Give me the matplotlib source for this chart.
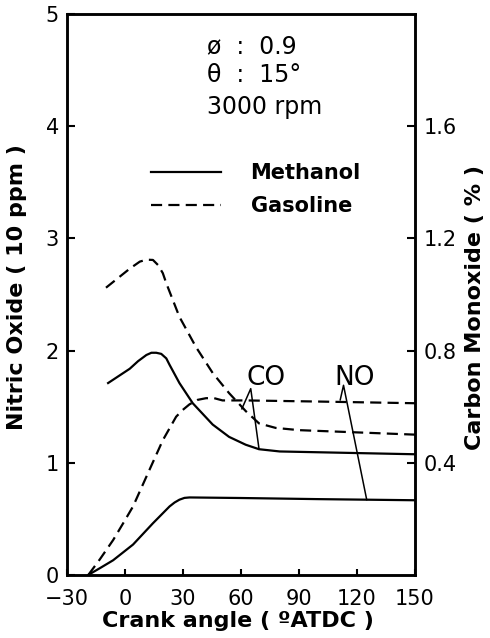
import matplotlib
matplotlib.use('Agg')
import matplotlib.pyplot as plt

plt.rcParams['font.family'] = ['DejaVu Sans']
plt.rcParams['lines.scale_dashes'] = False

# crank angle (deg ATDC) and nitric oxide (x10 ppm)
no_meth_x = [-19, -13, -6.2, 4.1, 14.4, 23, 25.6, 28.1, 30.7, 33.3, 60, 100, 150]
no_meth_y = [0, 0.06, 0.13, 0.27, 0.46, 0.61, 0.645, 0.67, 0.686, 0.69, 0.685, 0.675, 0.665]

no_gas_x = [-19, -13, -6.2, -1, 4.1, 12.7, 19.5, 26.4, 29.8, 33.3, 37.5, 41.9, 46.1, 50.4, 62.4, 100, 150]
no_gas_y = [0, 0.14, 0.31, 0.46, 0.61, 0.94, 1.20, 1.41, 1.47, 1.52, 1.56, 1.575, 1.575, 1.555, 1.555, 1.545, 1.53]

# carbon monoxide (%)
co_meth_x = [-8.8, 2.4, 6.7, 11, 13.6, 16.1, 18.7, 21.3, 23, 28.1, 35, 45.3, 53.8, 62.4, 69.3, 80, 150]
co_meth_y = [0.684, 0.735, 0.762, 0.784, 0.792, 0.792, 0.788, 0.772, 0.749, 0.684, 0.612, 0.536, 0.492, 0.464, 0.448, 0.44, 0.43]

co_gas_x = [-9.9, 2.4, 7.6, 11, 14.4, 17.0, 19.5, 21.3, 28.1, 36.7, 45.3, 53.8, 62.4, 69.3, 77.9, 90, 150]
co_gas_y = [1.024, 1.092, 1.117, 1.124, 1.123, 1.105, 1.076, 1.04, 0.92, 0.812, 0.72, 0.648, 0.584, 0.54, 0.524, 0.516, 0.50]

# leader lines of the CO / NO labels (left axis units)
co_lead_x = [60.4, 65, 69.3]
co_lead_y = [1.48, 1.66, 1.12]
no_lead_x = [111.3, 113, 125]
no_lead_y = [1.56, 1.69, 0.67]

x_ticks = [-30, 0, 30, 60, 90, 120, 150]
left_ticks = [0, 1, 2, 3, 4, 5]
right_ticks = [0.4, 0.8, 1.2, 1.6]

dash = (0, (8, 4.5))
lw = 1.6

fig = plt.figure(figsize=(4.9, 6.38), dpi=100)
ax = fig.add_axes([0.137, 0.099, 0.710, 0.879])
ax2 = ax.twinx()

ax.plot(no_meth_x, no_meth_y, color='black', lw=lw, label='Methanol')
ax.plot(no_gas_x, no_gas_y, color='black', lw=lw, linestyle=dash, label='Gasoline')
ax2.plot(co_meth_x, co_meth_y, color='black', lw=lw)
ax2.plot(co_gas_x, co_gas_y, color='black', lw=lw, linestyle=dash)

ax.plot(co_lead_x, co_lead_y, color='black', lw=1.1)
ax.plot(no_lead_x, no_lead_y, color='black', lw=1.1)
ax.text(63, 1.64, 'CO', fontsize=19, ha='left', va='bottom')
ax.text(108.5, 1.64, 'NO', fontsize=19, ha='left', va='bottom')

ax.text(42.6, 4.71, 'ø  :  0.9', fontsize=17, va='center')
ax.text(42.6, 4.46, 'θ  :  15°', fontsize=17, va='center')
ax.text(42.6, 4.17, '3000 rpm', fontsize=17, va='center')

ax.legend(loc='upper left', bbox_to_anchor=(0.186, 0.767), frameon=False,
          handlelength=3.4, handletextpad=1.4, labelspacing=0.62,
          prop={'weight': 'bold', 'size': 15})

ax.set_xlim(-30, 150)
ax.set_ylim(0, 5)
ax2.set_ylim(0, 2.0)
ax.set_xticks(x_ticks)
ax.set_yticks(left_ticks)
ax2.set_yticks(right_ticks)
ax2.set_yticklabels([str(t) for t in right_ticks])

ax.tick_params(axis='x', direction='in', length=4, width=1.5, labelsize=15, pad=10)
ax.tick_params(axis='y', direction='in', length=6, width=1.5, labelsize=15, pad=6)
ax2.tick_params(axis='y', direction='in', length=6, width=1.5, labelsize=15, pad=6)

for a in (ax, ax2):
    for s in a.spines.values():
        s.set_linewidth(1.8)

ax.set_xlabel('Crank angle ( ºATDC )', fontsize=16, fontweight='bold')
ax.set_ylabel('Nitric Oxide ( 10 ppm )', fontsize=16, fontweight='bold')
ax2.set_ylabel('Carbon Monoxide ( % )', fontsize=16, fontweight='bold')
ax.xaxis.set_label_coords(0.49, -0.064)
ax.yaxis.set_label_coords(-0.115, 0.513)
ax2.yaxis.set_label_coords(1.144, 0.476)

fig.savefig('out.png', dpi=100)
